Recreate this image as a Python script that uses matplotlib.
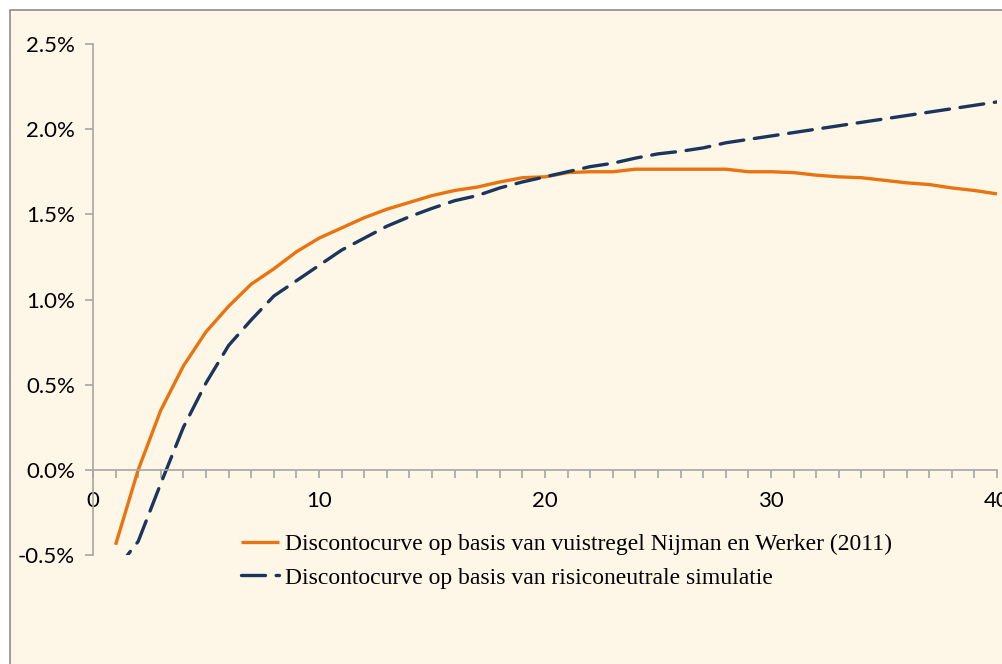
import numpy as np
import matplotlib.pyplot as plt
from matplotlib.patches import Rectangle
from matplotlib.ticker import MultipleLocator, FuncFormatter

# looptijd in jaren
years = np.arange(1, 41)

# vuistregel Nijman en Werker (2011), in %
nijman = [-0.44, 0.00, 0.35, 0.61, 0.81, 0.96, 1.09, 1.18, 1.28, 1.36,
          1.42, 1.48, 1.53, 1.57, 1.61, 1.64, 1.66, 1.69, 1.715, 1.72,
          1.745, 1.75, 1.75, 1.765, 1.765, 1.765, 1.765, 1.765, 1.75, 1.75,
          1.745, 1.73, 1.72, 1.715, 1.70, 1.685, 1.675, 1.655, 1.64, 1.62]

# risiconeutrale simulatie, in %
risico = [-0.59, -0.42, -0.08, 0.25, 0.51, 0.73, 0.88, 1.02, 1.11, 1.20,
          1.29, 1.36, 1.43, 1.486, 1.535, 1.58, 1.61, 1.655, 1.69, 1.72,
          1.75, 1.78, 1.80, 1.83, 1.855, 1.87, 1.89, 1.92, 1.94, 1.96,
          1.98, 2.00, 2.02, 2.04, 2.06, 2.08, 2.10, 2.12, 2.14, 2.16]

labels = ['Discontocurve op basis van vuistregel Nijman en Werker (2011)',
          'Discontocurve op basis van risiconeutrale simulatie']

bg = '#fef6e6'
fig = plt.figure(figsize=(10.03, 6.64), dpi=100)
fig.patch.set_facecolor('white')
# kader om de grafiek (loopt door buiten het beeld)
fig.patches.append(Rectangle((10 / 1003, -0.1), 1.2, 1 - 10 / 664 + 0.1,
                             transform=fig.transFigure, facecolor=bg,
                             edgecolor='#8c8c8c', linewidth=1.2, zorder=-1))

ax = fig.add_axes([93 / 1003, 1 - 555 / 664, (997 - 93) / 1003, (555 - 44) / 664])
ax.set_facecolor('none')

ax.plot(years, nijman, color='#e8730f', lw=2.4, label=labels[0], solid_capstyle='butt')
ax.plot(years, risico, color='#1b365d', lw=2.4, dashes=(7.2, 3.2), label=labels[1],
        dash_capstyle='round')

ax.set_xlim(0, 40)
ax.set_ylim(-0.5, 2.5)

for s in ['top', 'right']:
    ax.spines[s].set_visible(False)
ax.spines['bottom'].set_position(('data', 0))
for s in ['left', 'bottom']:
    ax.spines[s].set_color('#a6a6a6')
    ax.spines[s].set_linewidth(1.2)

ax.xaxis.set_major_locator(MultipleLocator(10))
ax.xaxis.set_minor_locator(MultipleLocator(1))
ax.yaxis.set_major_locator(MultipleLocator(0.5))
ax.yaxis.set_major_formatter(FuncFormatter(lambda v, p: '%.1f%%' % v))
ax.tick_params(axis='both', which='both', direction='out', color='#a6a6a6',
               width=1.2, length=6, labelsize=16, labelcolor='#000000')
ax.tick_params(axis='x', which='major', pad=9)
ax.tick_params(axis='y', pad=7)
for lab in ax.get_xticklabels() + ax.get_yticklabels():
    lab.set_family('Lato')

leg = ax.legend(loc='upper left', bbox_to_anchor=(139 / 904, 0.06), frameon=False,
                prop={'family': 'Liberation Serif', 'size': 17},
                handlelength=1.6, handletextpad=0.25, labelspacing=0.5,
                borderaxespad=0)

fig.savefig('out.png', dpi=100, facecolor='white')
